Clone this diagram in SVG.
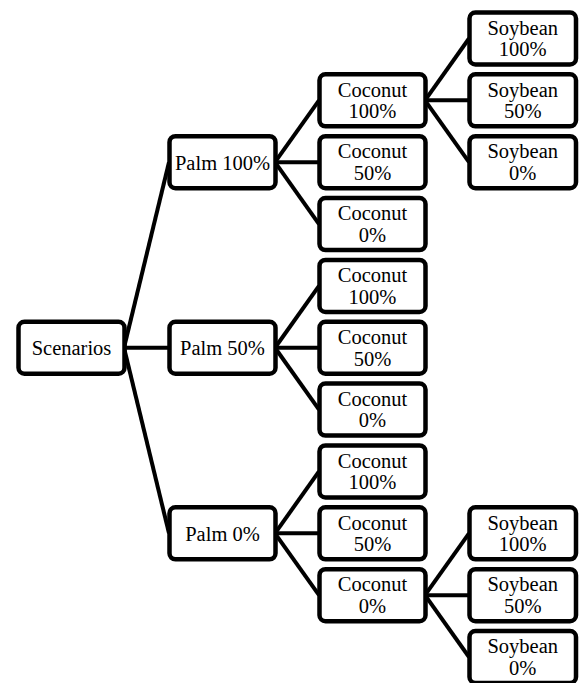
<svg xmlns="http://www.w3.org/2000/svg" width="579" height="683" viewBox="0 0 579 683">
<style>
.box{fill:#fff;stroke:#000;stroke-width:4.5}
.t{font-family:"Liberation Serif","Times New Roman",serif;font-size:20.5px;fill:#000;text-anchor:middle}
.c line{stroke:#000;stroke-width:4}
</style>
<rect width="579" height="683" fill="#fff"/>
<g id="connectors" class="c">
<line x1="124" y1="347.75" x2="169" y2="162.2"/>
<line x1="124" y1="347.75" x2="169" y2="347.75"/>
<line x1="124" y1="347.75" x2="169" y2="533.3"/>
<line x1="275" y1="162.2" x2="319" y2="100.35"/>
<line x1="275" y1="162.2" x2="319" y2="162.2"/>
<line x1="275" y1="162.2" x2="319" y2="224.05"/>
<line x1="275" y1="347.75" x2="319" y2="285.9"/>
<line x1="275" y1="347.75" x2="319" y2="347.75"/>
<line x1="275" y1="347.75" x2="319" y2="409.6"/>
<line x1="275" y1="533.3" x2="319" y2="471.45"/>
<line x1="275" y1="533.3" x2="319" y2="533.3"/>
<line x1="275" y1="533.3" x2="319" y2="595.15"/>
<line x1="425" y1="100.35" x2="469" y2="38.5"/>
<line x1="425" y1="100.35" x2="469" y2="100.35"/>
<line x1="425" y1="100.35" x2="469" y2="162.2"/>
<line x1="425" y1="595.15" x2="469" y2="533.3"/>
<line x1="425" y1="595.15" x2="469" y2="595.15"/>
<line x1="425" y1="595.15" x2="469" y2="657"/>
</g>
<g id="scenarios"><rect class="box" x="18.5" y="321.75" width="106" height="52" rx="6"/><text class="t" x="71.5" y="355.3">Scenarios</text></g>
<g id="palm100"><rect class="box" x="169.5" y="136.2" width="106" height="52" rx="6"/><text class="t" x="222.5" y="169.7">Palm 100%</text></g>
<g id="palm50"><rect class="box" x="169.5" y="321.75" width="106" height="52" rx="6"/><text class="t" x="222.5" y="355.3">Palm 50%</text></g>
<g id="palm0"><rect class="box" x="169.5" y="507.3" width="106" height="52" rx="6"/><text class="t" x="222.5" y="540.8">Palm 0%</text></g>
<g id="p100c100"><rect class="box" x="319.5" y="74.35" width="106" height="52" rx="6"/><text class="t" x="372.5" y="96.6">Coconut</text><text class="t" x="372.5" y="118.2">100%</text></g>
<g id="p100c50"><rect class="box" x="319.5" y="136.2" width="106" height="52" rx="6"/><text class="t" x="372.5" y="158.4">Coconut</text><text class="t" x="372.5" y="180">50%</text></g>
<g id="p100c0"><rect class="box" x="319.5" y="198.05" width="106" height="52" rx="6"/><text class="t" x="372.5" y="220.3">Coconut</text><text class="t" x="372.5" y="241.9">0%</text></g>
<g id="p50c100"><rect class="box" x="319.5" y="259.9" width="106" height="52" rx="6"/><text class="t" x="372.5" y="282.1">Coconut</text><text class="t" x="372.5" y="303.7">100%</text></g>
<g id="p50c50"><rect class="box" x="319.5" y="321.75" width="106" height="52" rx="6"/><text class="t" x="372.5" y="344">Coconut</text><text class="t" x="372.5" y="365.6">50%</text></g>
<g id="p50c0"><rect class="box" x="319.5" y="383.6" width="106" height="52" rx="6"/><text class="t" x="372.5" y="405.8">Coconut</text><text class="t" x="372.5" y="427.4">0%</text></g>
<g id="p0c100"><rect class="box" x="319.5" y="445.45" width="106" height="52" rx="6"/><text class="t" x="372.5" y="467.7">Coconut</text><text class="t" x="372.5" y="489.3">100%</text></g>
<g id="p0c50"><rect class="box" x="319.5" y="507.3" width="106" height="52" rx="6"/><text class="t" x="372.5" y="529.5">Coconut</text><text class="t" x="372.5" y="551.1">50%</text></g>
<g id="p0c0"><rect class="box" x="319.5" y="569.15" width="106" height="52" rx="6"/><text class="t" x="372.5" y="591.4">Coconut</text><text class="t" x="372.5" y="613">0%</text></g>
<g id="a_s100"><rect class="box" x="469.5" y="12.5" width="106.5" height="52" rx="6"/><text class="t" x="522.7" y="34.7">Soybean</text><text class="t" x="522.7" y="56.3">100%</text></g>
<g id="a_s50"><rect class="box" x="469.5" y="74.35" width="106.5" height="52" rx="6"/><text class="t" x="522.7" y="96.6">Soybean</text><text class="t" x="522.7" y="118.2">50%</text></g>
<g id="a_s0"><rect class="box" x="469.5" y="136.2" width="106.5" height="52" rx="6"/><text class="t" x="522.7" y="158.4">Soybean</text><text class="t" x="522.7" y="180">0%</text></g>
<g id="b_s100"><rect class="box" x="469.5" y="507.3" width="106.5" height="52" rx="6"/><text class="t" x="522.7" y="529.5">Soybean</text><text class="t" x="522.7" y="551.1">100%</text></g>
<g id="b_s50"><rect class="box" x="469.5" y="569.15" width="106.5" height="52" rx="6"/><text class="t" x="522.7" y="591.4">Soybean</text><text class="t" x="522.7" y="613">50%</text></g>
<g id="b_s0"><rect class="box" x="469.5" y="631" width="106.5" height="52" rx="6"/><text class="t" x="522.7" y="653.2">Soybean</text><text class="t" x="522.7" y="674.8">0%</text></g>
</svg>
